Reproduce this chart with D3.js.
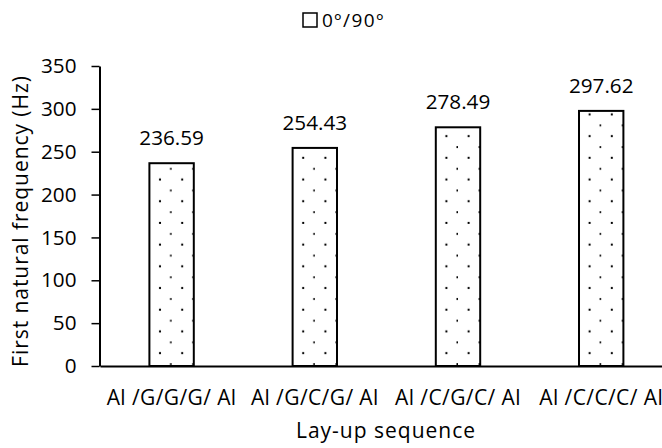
<!DOCTYPE html>
<html>
<head>
<meta charset="utf-8">
<script src="https://cdn.jsdelivr.net/npm/d3@7"></script>
<style>
  html, body { margin: 0; padding: 0; background: #fff; }
  svg { display: block; }
  text { font-family: "Open Sans", sans-serif; fill: #000; }
</style>
</head>
<body>
<svg id="chart" width="662" height="448"></svg>
<script>
// Lay-up sequences and their first natural frequency (Hz)
const categories = ["Al /G/G/G/ Al", "Al /G/C/G/ Al", "Al /C/G/C/ Al", "Al /C/C/C/ Al"];
const frequencies = [236.59, 254.43, 278.49, 297.62];
const yTicks = [0, 50, 100, 150, 200, 250, 300, 350];
const seriesName = "0º/90º";
const xTitle = "Lay-up sequence";
const yTitle = "First natural frequency (Hz)";

const FONT = "'Open Sans', sans-serif";
const svg = d3.select("#chart");

const x = d3.scaleBand()
  .domain(categories)
  .range([100, 672.8])
  .paddingInner(0.69)
  .paddingOuter(0.345);

const y = d3.scaleLinear().domain([0, 350]).range([366, 66]);

// dotted fill, one pattern per bar anchored at its bottom-left corner
const defs = svg.append("defs");
const tileW = 22.2, tileH = 21.7;
categories.forEach((c, i) => {
  const p = defs.append("pattern")
    .attr("id", "dots" + i)
    .attr("patternUnits", "userSpaceOnUse")
    .attr("width", tileW)
    .attr("height", tileH)
    .attr("x", x(c))
    .attr("y", y(0));
  p.append("rect").attr("width", tileW).attr("height", tileH).attr("fill", "#fff");
  p.append("rect").attr("x", 9.6).attr("y", tileH - 13.9).attr("width", 2).attr("height", 2).attr("fill", "#000");
  p.append("rect").attr("x", 20.7).attr("y", tileH - 2.9).attr("width", 2).attr("height", 2).attr("fill", "#000");
});

// bars
svg.append("g").selectAll("rect")
  .data(frequencies)
  .join("rect")
  .attr("x", (d, i) => x(categories[i]))
  .attr("y", d => y(d))
  .attr("width", x.bandwidth())
  .attr("height", d => y(0) - y(d))
  .attr("fill", (d, i) => `url(#dots${i})`)
  .attr("stroke", "#000")
  .attr("stroke-width", 2);

// value labels
svg.append("g").selectAll("text")
  .data(frequencies)
  .join("text")
  .attr("x", (d, i) => x(categories[i]) + x.bandwidth() / 2)
  .attr("y", d => y(d) - 18)
  .attr("text-anchor", "middle")
  .style("font-size", "20.7px")
  .text(d => d.toFixed(2));

// y axis
const yAxis = svg.append("g")
  .attr("transform", "translate(99.5,0)")
  .call(d3.axisLeft(y).tickValues(yTicks).tickSize(8).tickSizeOuter(0).tickPadding(15));
yAxis.select(".domain").attr("stroke", "#000").attr("stroke-width", 2);
yAxis.selectAll(".tick line").attr("stroke", "#000").attr("stroke-width", 1.5);
yAxis.selectAll(".tick text").style("font-size", "20.7px").style("font-family", FONT).attr("fill", "#000");

// x axis
const xAxis = svg.append("g")
  .attr("transform", "translate(0,366)")
  .call(d3.axisBottom(x).tickSize(0).tickSizeOuter(0).tickPadding(24.1));
xAxis.select(".domain").attr("stroke", "#000").attr("stroke-width", 2);
xAxis.selectAll(".tick text").style("font-size", "21px").style("font-family", FONT)
  .style("letter-spacing", "0.4px").attr("fill", "#000");

// axis titles
svg.append("text")
  .attr("x", 386)
  .attr("y", 438)
  .attr("text-anchor", "middle")
  .style("font-size", "21px")
  .style("letter-spacing", "1px")
  .text(xTitle);

svg.append("text")
  .attr("transform", "translate(28,221) rotate(-90)")
  .attr("text-anchor", "middle")
  .style("font-size", "21px")
  .style("letter-spacing", "0.95px")
  .text(yTitle);

// legend
const legend = svg.append("g").attr("transform", "translate(303,13)");
legend.append("rect")
  .attr("width", 14).attr("height", 14)
  .attr("fill", "#fff").attr("stroke", "#000").attr("stroke-width", 1.5);
legend.append("text")
  .attr("x", 19).attr("y", 13.7)
  .style("font-size", "19px")
  .style("letter-spacing", "1.5px")
  .text(seriesName);
</script>
</body>
</html>
